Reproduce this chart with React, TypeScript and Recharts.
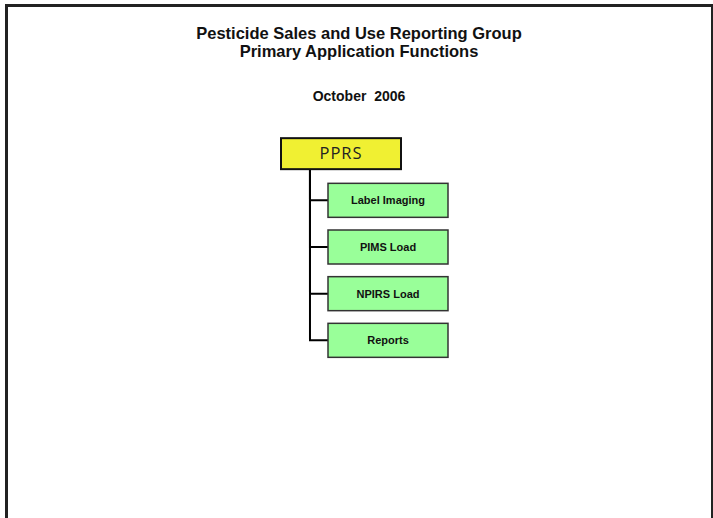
import React from "react";
import { ScatterChart, Scatter, XAxis, YAxis } from "recharts";

// org chart nodes
const nodeNames = ["PPRS", "Label Imaging", "PIMS Load", "NPIRS Load", "Reports"];
const nodeLevels = [0, 1, 1, 1, 1];
const nodeRows = [0, 1, 2, 3, 4];
const nodeParents = [-1, 0, 0, 0, 0];

const titleLines = [
  "Pesticide Sales and Use Reporting Group",
  "Primary Application Functions",
];
const subtitle = "October  2006";

// where the vertical trunk sits, relative to the parent level
const ELBOW = -0.66;

const nodes = nodeNames.map((name, i) => ({
  name,
  x: nodeLevels[i],
  y: nodeRows[i],
}));

const connectors = nodeNames
  .map((name, i) => ({ name, i }))
  .filter((n) => nodeParents[n.i] >= 0)
  .map((n) => {
    const p = nodeParents[n.i];
    const ex = nodeLevels[p] + ELBOW;
    return [
      { x: ex, y: nodeRows[p] },
      { x: ex, y: nodeRows[n.i] },
      { x: nodeLevels[n.i], y: nodeRows[n.i] },
    ];
  });

const NodeBox = (props: any) => {
  const { cx, cy, payload } = props;
  if (payload.x === 0) {
    return (
      <g>
        <rect
          x={cx - 60}
          y={cy - 15.5}
          width={120}
          height={31}
          fill="#f0f032"
          stroke="#111"
          strokeWidth={2}
        />
        <text
          x={cx}
          y={cy + 5.5}
          textAnchor="middle"
          fontFamily="'Open Sans', sans-serif"
          fontSize={16.5}
          letterSpacing={1}
          fill="#222"
        >
          {payload.name}
        </text>
      </g>
    );
  }
  return (
    <g>
      <rect
        x={cx - 60}
        y={cy - 17}
        width={120}
        height={34}
        fill="#99ff99"
        stroke="#333"
        strokeWidth={1.5}
      />
      <text
        x={cx}
        y={cy + 4}
        textAnchor="middle"
        fontFamily="'Liberation Sans', Arial, sans-serif"
        fontWeight="bold"
        fontSize={11}
        fill="#111"
      >
        {payload.name}
      </text>
    </g>
  );
};

const App: React.FC = () => {
  return (
    <div
      style={{
        position: "absolute",
        left: 0,
        top: 0,
        width: 713,
        height: 518,
        overflow: "hidden",
        background: "#fff",
        fontFamily: "'Liberation Sans', Arial, sans-serif",
      }}
    >
      <div
        style={{
          position: "absolute",
          left: 5,
          top: 4,
          width: 703,
          height: 600,
          borderLeft: "3px solid #222",
          borderTop: "3px solid #222",
          borderRight: "3px solid #222",
        }}
      />
      {titleLines.map((t, i) => (
        <div
          key={t}
          style={{
            position: "absolute",
            left: 0,
            width: 718,
            top: 24 + i * 18,
            textAlign: "center",
            fontWeight: "bold",
            fontSize: 16.5,
            lineHeight: "18px",
            color: "#111",
          }}
        >
          {t}
        </div>
      ))}
      <div
        style={{
          position: "absolute",
          left: 0,
          width: 718,
          top: 88,
          textAlign: "center",
          fontWeight: "bold",
          fontSize: 14,
          lineHeight: "16px",
          color: "#111",
          whiteSpace: "pre",
        }}
      >
        {subtitle}
      </div>
      <div style={{ position: "absolute", left: 0, top: 0 }}>
        <ScatterChart
          width={713}
          height={518}
          margin={{ top: 107, right: 278, left: 294, bottom: 131 }}
        >
          <XAxis type="number" dataKey="x" domain={[-1, 2]} hide />
          <YAxis type="number" dataKey="y" domain={[-1, 5]} reversed hide />
          {connectors.map((c, i) => (
            <Scatter
              key={"c" + i}
              data={c}
              line={{ stroke: "#000", strokeWidth: 2 }}
              lineType="joint"
              shape={() => <g />}
              isAnimationActive={false}
            />
          ))}
          <Scatter data={nodes} shape={NodeBox} isAnimationActive={false} />
        </ScatterChart>
      </div>
    </div>
  );
};

export default App;
